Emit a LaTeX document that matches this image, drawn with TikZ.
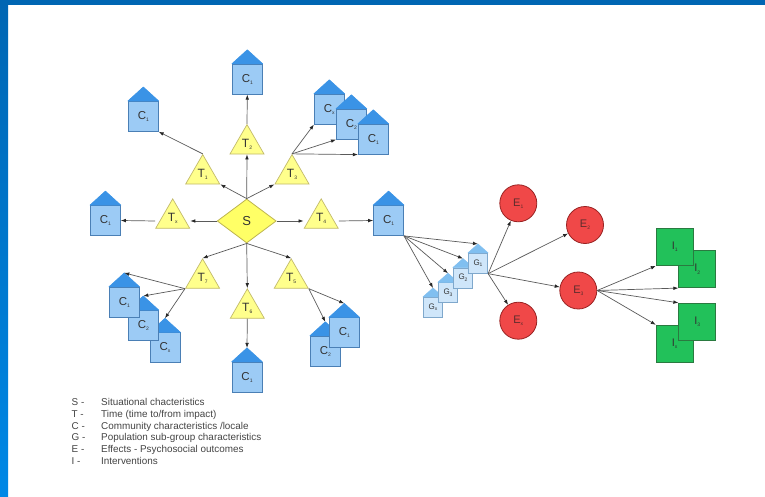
\documentclass[tikz,border=0pt]{standalone}
\usepackage{fontspec}
\setmainfont{Liberation Sans}
\usetikzlibrary{shapes.geometric,arrows.meta}

\definecolor{framebar}{HTML}{0066B3}
\definecolor{framelow}{HTML}{0088E6}
\definecolor{linegray}{HTML}{5A5A5A}
\definecolor{cfill}{HTML}{9CCBF5}
\definecolor{cedge}{HTML}{4A7FB5}
\definecolor{croof}{HTML}{3A93E6}
\definecolor{gfill}{HTML}{CFE6FA}
\definecolor{gedge}{HTML}{7FA8CC}
\definecolor{groof}{HTML}{80BFF0}
\definecolor{tfill}{HTML}{FFFF8C}
\definecolor{tedge}{HTML}{C2BA6A}
\definecolor{sfill}{HTML}{FFFF66}
\definecolor{sedge}{HTML}{BDB450}
\definecolor{efill}{HTML}{F04848}
\definecolor{eedge}{HTML}{992222}
\definecolor{ifill}{HTML}{22C15A}
\definecolor{iedge}{HTML}{2A7A40}
\definecolor{labtext}{HTML}{333333}
\definecolor{legtext}{HTML}{444444}

% small lowered index after a letter
\newcommand\nsub[1]{\raisebox{-0.35ex}{\fontsize{5}{5}\selectfont#1}}

\tikzset{
  arr/.style={draw=linegray, line width=0.7pt, -{Latex[length=5pt,width=3.6pt,color=black!85]}},
  cbox/.style={rectangle, draw=cedge, fill=cfill, line width=0.8pt, minimum width=30pt,
    minimum height=30pt, inner sep=0pt, text=labtext, font=\fontsize{11.5}{11.5}\selectfont},
  croofst/.style={fill=croof, draw=croof, line width=0.6pt, line join=round},
  gbox/.style={rectangle, draw=gedge, fill=gfill, line width=0.7pt, minimum width=19.5pt,
    minimum height=20pt, inner sep=0pt, text=labtext, font=\fontsize{8}{8}\selectfont},
  groofst/.style={fill=groof, draw=groof, line width=0.5pt, line join=round},
  tri/.style={regular polygon, regular polygon sides=3, minimum size=39.3pt, inner sep=0pt,
    draw=tedge, fill=tfill, line width=0.7pt, text=labtext, font=\fontsize{12}{12}\selectfont},
  sit/.style={diamond, minimum width=59pt, minimum height=44pt, inner sep=0pt,
    draw=sedge, fill=sfill, line width=0.8pt, text=labtext, font=\fontsize{13}{13}\selectfont},
  eff/.style={circle, minimum size=37pt, inner sep=0pt, draw=eedge, fill=efill,
    line width=0.8pt, text=labtext!60!eedge, font=\fontsize{11}{11}\selectfont},
  intv/.style={rectangle, minimum size=37pt, inner sep=0pt, draw=iedge, fill=ifill,
    line width=0.8pt, text=labtext, font=\fontsize{11}{11}\selectfont},
  legkey/.style={anchor=base west, inner sep=0pt, text=legtext, font=\fontsize{9.9}{9.9}\selectfont},
}

% house: box with a pitched roof on top
\newcommand\chouse[3]{%
  \node[cbox] (#1) at (#2) {#3};
  \filldraw[croofst] (#1.north west) -- ([yshift=14pt]#1.north) -- (#1.north east) -- cycle;}
\newcommand\ghouse[3]{%
  \node[gbox] (#1) at (#2) {#3};
  \filldraw[groofst] (#1.north west) -- ([yshift=9pt]#1.north) -- (#1.north east) -- cycle;}

\begin{document}
\begin{tikzpicture}[x=1pt,y=-1pt]
\useasboundingbox (0,0) rectangle (765,497);
\fill[white] (0,0) rectangle (765,497);

% frame bars
\fill[framebar] (0,0) rectangle (765,5);
\shade[top color=framebar, bottom color=framelow] (0,0) rectangle (8,497);

% situation and time nodes
\node[sit] (s) at (246.7,221) {S};
\node[tri] (t1) at (202.7,174.2) {T\nsub{1}};
\node[tri] (t2) at (247,144.2) {T\nsub{2}};
\node[tri] (t3) at (292,174.2) {T\nsub{3}};
\node[tri] (tx) at (172.7,218.5) {T\nsub{x}};
\node[tri] (t4) at (321.2,218.5) {T\nsub{4}};
\node[tri] (t7) at (202.6,278.5) {T\nsub{7}};
\node[tri] (t6) at (247.3,308.5) {T\nsub{6}};
\node[tri] (t5) at (291.2,278.5) {T\nsub{5}};

% community nodes
\chouse{c1}{143.3,116.4}{C\nsub{1}}
\chouse{c2}{247.3,79.2}{C\nsub{1}}
\chouse{c3x}{329.3,109.2}{C\nsub{x}}
\chouse{c32}{351.4,124.2}{C\nsub{2}}
\chouse{c31}{373.3,139.2}{C\nsub{1}}
\chouse{cx}{105.4,220.5}{C\nsub{1}}
\chouse{c4}{388.6,220.5}{C\nsub{1}}
\chouse{c7x}{165,347.7}{C\nsub{x}}
\chouse{c72}{143.3,325.4}{C\nsub{2}}
\chouse{c71}{124.3,302.3}{C\nsub{1}}
\chouse{c6}{247,377.3}{C\nsub{1}}
\chouse{c52}{325.3,351.2}{C\nsub{2}}
\chouse{c51}{344.3,332.8}{C\nsub{1}}

% population sub-groups
\ghouse{gx}{433,307.3}{G\nsub{x}}
\ghouse{g3}{448,292.6}{G\nsub{3}}
\ghouse{g2}{463,277.9}{G\nsub{2}}
\ghouse{g1}{478,263.3}{G\nsub{1}}

% effects
\node[eff] (e1) at (518.3,203.3) {E\nsub{1}};
\node[eff] (e2) at (585,225) {E\nsub{2}};
\node[eff] (e3) at (578.3,290.5) {E\nsub{3}};
\node[eff] (ex) at (518.3,320.7) {E\nsub{x}};

% interventions
\node[intv] (i2) at (697.3,269.2) {I\nsub{2}};
\node[intv] (i1) at (674.7,247) {I\nsub{1}};
\node[intv] (ix) at (674.7,343.7) {I\nsub{x}};
\node[intv] (i3) at (697.3,321.7) {I\nsub{3}};

% connectors
\draw[arr] (s.north) -- (t1.corner 3);
\draw[arr] (s.north) -- (t2.south);
\draw[arr] (s.north) -- (t3.corner 2);
\draw[arr] (s.west) -- (tx.corner 3 |- s.west);
\draw[arr] (s.east) -- (t4.corner 2 |- s.east);
\draw[arr] (s.south) -- (t7.corner 1);
\draw[arr] (s.south) -- (t6.corner 1);
\draw[arr] (s.south) -- (t5.corner 1);

\draw[arr] (t1.corner 1) -- (c1.south east);
\draw[arr] (t2.corner 1) -- (c2.south);
\draw[arr] (t3.corner 1) -- (c3x.south west);
\draw[arr] (t3.corner 1) -- (c32.south west);
\draw[arr] (t3.corner 1) -- (c31.south west);
\draw[arr] (tx.corner 2 |- s.west) -- (cx.east);
\draw[arr] (t4.corner 3 |- s.east) -- (c4.west);
\draw[arr] (t7.corner 2) -- ([yshift=14pt]c71.north);
\draw[arr] (t7.corner 2) -- ([yshift=14pt]c72.north);
\draw[arr] (t7.corner 2) -- ([yshift=14pt]c7x.north);
\draw[arr] (t6.south) -- ([yshift=14pt]c6.north);
\draw[arr] (t5.corner 3) -- ([yshift=14pt]c51.north);
\draw[arr] (t5.corner 3) -- ([yshift=14pt]c52.north);

\draw[arr] (c4.south east) -- ([yshift=9pt]g1.north);
\draw[arr] (c4.south east) -- ([yshift=9pt]g2.north);
\draw[arr] (c4.south east) -- ([yshift=9pt]g3.north);
\draw[arr] (c4.south east) -- ([yshift=9pt]gx.north);

\draw[arr] (g1.south east) -- (e1);
\draw[arr] (g1.south east) -- (e2);
\draw[arr] (g1.south east) -- (e3);
\draw[arr] (g1.south east) -- (ex);

\draw[arr] (e3.east) -- (i1.south west);
\draw[arr] (e3.east) -- (i2.south west);
\draw[arr] (e3.east) -- (i3.north west);
\draw[arr] (e3.east) -- (ix.north west);

% key
\node[legkey] (kS) at (71.5,405.3) {S -};
\node[legkey] (kT) at (71.5,417.2) {T -};
\node[legkey] (kC) at (71.5,429.0) {C -};
\node[legkey] (kG) at (71.5,440.9) {G -};
\node[legkey] (kE) at (71.5,452.8) {E -};
\node[legkey] (kI) at (71.5,464.6) {I -};
\node[legkey] (dS) at (101,405.3) {Situational chacteristics};
\node[legkey] (dT) at (101,417.2) {Time (time to/from impact)};
\node[legkey] (dC) at (101,429.0) {Community characteristics /locale};
\node[legkey] (dG) at (101,440.9) {Population sub-group characteristics};
\node[legkey] (dE) at (101,452.8) {Effects - Psychosocial outcomes};
\node[legkey] (dI) at (101,464.6) {Interventions};
\end{tikzpicture}
\end{document}
